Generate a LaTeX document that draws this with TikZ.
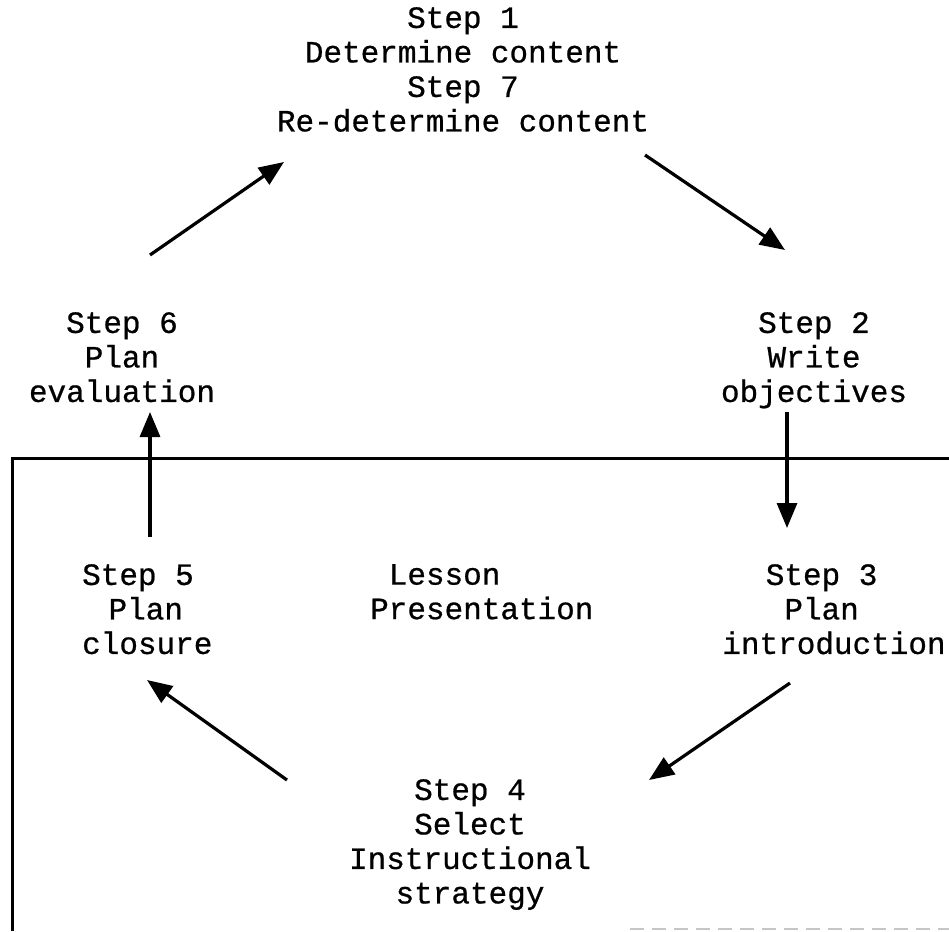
\documentclass[tikz,border=0pt]{standalone}
\usepackage{fontspec}
\setmainfont{Liberation Mono}[BoldFont=Liberation Mono,BoldFeatures={FakeBold=0.7}]
\usetikzlibrary{arrows.meta}
\begin{document}
\begin{tikzpicture}[x=1pt,y=-1pt,
  lbl/.style={inner sep=0pt,align=center,font=\fontsize{31}{34.5}\selectfont\bfseries},
  lblL/.style={inner sep=0pt,align=left,font=\fontsize{31}{34.5}\selectfont\bfseries},
  arr/.style={line width=3.2pt,-{Triangle[length=25pt,width=20pt]}},
  frame/.style={line width=3pt}]
\useasboundingbox (0,0) rectangle (949,931);
% nodes
\node[lbl,anchor=north] (n1) at (463,7) {Step 1\\Determine content\\Step 7\\Re-determine content};
\node[lbl,anchor=north] (n2) at (814,312) {Step 2\\Write\\objectives};
\node[lbl,anchor=north] (n6) at (122,312) {Step 6\\Plan\\evaluation};
\node[lblL,anchor=north west] (n5) at (82,564) {Step 5\\\hspace*{0.85em}Plan\\closure};
\node[lblL,anchor=north west] (lp) at (370,564) {\hspace*{0.6em}Lesson\\Presentation};
\node[lbl,anchor=north] (n3) at (834,564) {\hspace*{-0.8em}Step 3\\\hspace*{-0.8em}Plan\\introduction};
\node[lbl,anchor=north] (n4) at (470,779) {Step 4\\Select\\Instructional\\strategy};
% frame
\coordinate (fr) at (949,458);
\coordinate (fc) at (12,458);
\coordinate (fb) at (12,931);
\draw[frame] (fr) -- (fc) -- (fb);
\draw[gray!45,line width=1.2pt,dash pattern=on 14pt off 8pt] (630,929) -- (949,929);
% arrow end points
\coordinate (a1s) at (150,255); \coordinate (a1e) at (284,162);
\coordinate (a2s) at (645,155); \coordinate (a2e) at (785,250);
\coordinate (a3s) at (787,412); \coordinate (a3e) at (787,528);
\coordinate (a4s) at (790,683); \coordinate (a4e) at (649,780);
\coordinate (a5s) at (287,780); \coordinate (a5e) at (147,680);
\coordinate (a6s) at (150,537); \coordinate (a6e) at (150,412);
\draw[arr] (a1s) -- (a1e);
\draw[arr] (a2s) -- (a2e);
\draw[arr] (a3s) -- (a3e);
\draw[arr] (a4s) -- (a4e);
\draw[arr] (a5s) -- (a5e);
\draw[arr] (a6s) -- (a6e);
\end{tikzpicture}
\end{document}
